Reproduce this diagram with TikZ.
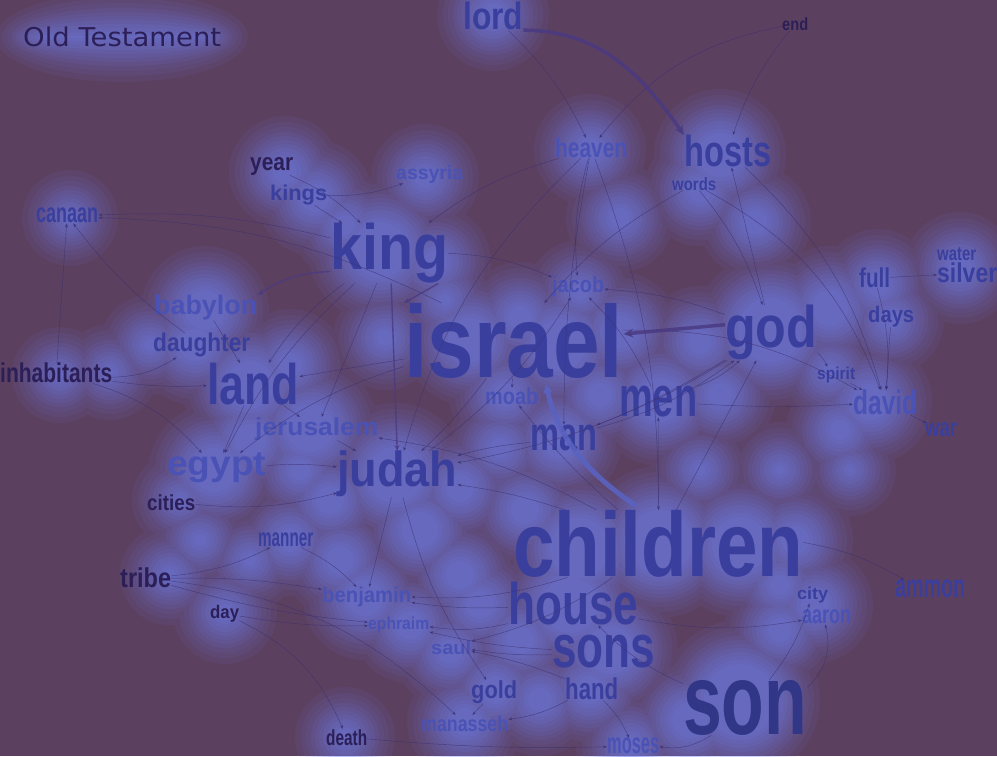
\documentclass[tikz,border=0pt]{standalone}
\usepackage{fontspec}
\usepackage{graphicx}
\usetikzlibrary{arrows.meta}
\newfontfamily\wf{Liberation Sans}
\newfontfamily\tf{DejaVu Sans}
\definecolor{bg}{HTML}{5C4060}
\definecolor{glow}{HTML}{7282F2}
\definecolor{tdark}{HTML}{2C1F58}
\definecolor{tmid}{HTML}{3A3F9E}
\definecolor{tlight}{HTML}{4A52B5}
\definecolor{edgec}{HTML}{3A3070}
\definecolor{thickc}{HTML}{4A3A82}
\definecolor{lightthick}{HTML}{5A62C0}
\newcommand\wordnode[7]{%
  \pgfmathsetmacro\wwid{#6-#4}\pgfmathsetmacro\whgt{#7-#5}%
  \node[wordbox, text=#3] (#1) at (#4,#5) {\resizebox*{\wwid pt}{\whgt pt}{\wf\bfseries #2}};}
\newcommand\glowset[1]{%
  \foreach \gx/\gy/\gr in {493/15/12, 590/150/12, 620/218/10, 720/155/22, 700/190/12, 755/222/12,
    285/172/12, 315/198/14, 345/225/10, 425/178/10, 70/218/4,
    380/250/28, 435/262/12, 205/310/20, 195/345/16, 150/345/6, 60/375/4, 110/372/4,
    250/385/24, 290/365/12, 470/340/22, 560/345/26, 620/332/16, 580/292/8, 520/318/12,
    770/330/32, 700/342/12, 830/308/18, 878/285/12, 890/320/10, 960/268/12,
    310/428/24, 250/440/16, 215/470/22, 180/500/4, 395/475/28, 460/488/14,
    660/400/22, 720/395/12, 600/395/12, 560/440/18, 500/448/10, 505/395/12,
    870/402/18, 840/430/10, 830/372/8, 580/548/30, 660/542/32, 740/545/28, 795/540/14, 525/510/14,
    570/605/28, 610/650/24, 520/640/14, 740/700/36, 690/720/18, 815/605/14, 780/630/12,
    290/540/12, 340/560/14, 250/560/6, 365/598/18, 410/625/14, 450/652/12, 225/612/8,
    495/690/14, 590/690/14, 540/700/12, 465/722/14, 345/737/6, 630/745/10,
    330/500/14, 420/530/18, 460/575/14, 480/605/14, 385/338/8, 300/470/10,
    700/470/6, 780/470/4, 850/470/2, 445/300/6, 200/540/6, 170/575/6, 780/585/10}
  {\fill[glow] (\gx,\gy) circle[radius=\gr pt+#1pt];}
  \fill[glow] (122,37) ellipse[x radius=82pt+#1pt, y radius=1pt+#1pt];}
\tikzset{
  wordbox/.style={inner sep=0pt, anchor=north west},
  edge/.style={draw=edgec, line width=0.45pt, opacity=0.7, -{Stealth[length=4pt,width=3pt]}},
  thickedge/.style={draw=thickc, line width=3.5pt, opacity=0.85, -{Stealth[length=10pt,width=9pt]}},
  midedge/.style={draw=thickc, line width=1.4pt, opacity=0.8, -{Stealth[length=6pt,width=5pt]}},
}
\begin{document}
\begin{tikzpicture}[x=1pt,y=-1pt]
\fill[bg] (0,0) rectangle (997,756);
\useasboundingbox (0,0) rectangle (997,756);
% glow
\foreach \off/\op in {44/0.07, 38/0.08, 33/0.08, 28/0.09, 24/0.09, 20/0.1, 16/0.1, 12/0.11, 8/0.11, 4/0.12, 0/0.12}{
  \begin{scope}[transparency group, opacity=\op]\glowset{\off}\end{scope}}
% title
\node[wordbox, text=tdark] (title) at (23,27) {\resizebox*{198pt}{20pt}{\tf Old Testament}};
% words
\wordnode{lord}{lord}{tmid}{463}{2}{523}{30}
\wordnode{end}{end}{tdark}{782}{17}{808}{30}
\wordnode{heaven}{heaven}{tlight}{555}{138}{627}{158}
\wordnode{hosts}{hosts}{tmid}{684}{135}{771}{167}
\wordnode{words}{words}{tmid}{672}{177}{716}{190}
\wordnode{year}{year}{tdark}{250}{157}{293}{175}
\wordnode{kings}{kings}{tmid}{270}{185}{327}{205}
\wordnode{assyria}{assyria}{tlight}{396}{165}{463}{183}
\wordnode{canaan}{canaan}{tmid}{36}{208}{98}{223}
\wordnode{king}{king}{tmid}{330}{223}{448}{283}
\wordnode{jacob}{jacob}{tlight}{552}{276}{604}{297}
\wordnode{israel}{israel}{tmid}{404}{303}{623}{378}
\wordnode{god}{god}{tmid}{725}{305}{817}{360}
\wordnode{full}{full}{tmid}{859}{268}{890}{288}
\wordnode{water}{water}{tmid}{937}{247}{976}{260}
\wordnode{silver}{silver}{tmid}{937}{263}{997}{283}
\wordnode{days}{days}{tmid}{868}{306}{914}{327}
\wordnode{babylon}{babylon}{tlight}{154}{295}{257}{320}
\wordnode{daughter}{daughter}{tmid}{153}{333}{250}{357}
\wordnode{inhabitants}{inhabitants}{tdark}{0}{363}{112}{383}
\wordnode{land}{land}{tmid}{207}{363}{299}{405}
\wordnode{moab}{moab}{tlight}{485}{388}{538}{405}
\wordnode{men}{men}{tmid}{619}{386}{697}{417}
\wordnode{spirit}{spirit}{tmid}{817}{367}{855}{383}
\wordnode{david}{david}{tlight}{853}{390}{917}{415}
\wordnode{war}{war}{tmid}{925}{423}{957}{437}
\wordnode{jerusalem}{jerusalem}{tlight}{255}{417}{378}{440}
\wordnode{man}{man}{tmid}{530}{425}{597}{451}
\wordnode{egypt}{egypt}{tlight}{167}{453}{266}{483}
\wordnode{judah}{judah}{tmid}{337}{451}{457}{497}
\wordnode{cities}{cities}{tdark}{147}{495}{195}{511}
\wordnode{children}{children}{tmid}{513}{510}{803}{577}
\wordnode{manner}{manner}{tmid}{258}{533}{313}{547}
\wordnode{tribe}{tribe}{tdark}{120}{568}{171}{588}
\wordnode{benjamin}{benjamin}{tlight}{322}{587}{411}{607}
\wordnode{house}{house}{tmid}{508}{582}{638}{625}
\wordnode{ammon}{ammon}{tmid}{895}{580}{965}{598}
\wordnode{city}{city}{tmid}{797}{587}{828}{603}
\wordnode{aaron}{aaron}{tlight}{802}{610}{851}{624}
\wordnode{day}{day}{tdark}{210}{605}{239}{622}
\wordnode{ephraim}{ephraim}{tlight}{368}{617}{429}{633}
\wordnode{saul}{saul}{tlight}{431}{640}{471}{654}
\wordnode{sons}{sons}{tmid}{552}{635}{655}{668}
\wordnode{gold}{gold}{tmid}{471}{680}{517}{703}
\wordnode{hand}{hand}{tmid}{565}{678}{618}{700}
\wordnode{son}{son}{tmid!85!black}{683}{680}{807}{735}
\wordnode{manasseh}{manasseh}{tlight}{421}{715}{508}{731}
\wordnode{death}{death}{tdark}{326}{729}{367}{745}
\wordnode{moses}{moses}{tlight}{607}{738}{659}{754}
% thin edges
\foreach \a/\b/\bd in {lord/heaven/10, end/heaven/-20, end/hosts/-10,
  heaven/man/-5, heaven/judah/-15, heaven/children/10, words/god/10, words/david/20, god/hosts/0,
  kings/assyria/-10, kings/king/0, year/king/10, king/canaan/-8, israel/canaan/-12,
  inhabitants/canaan/0, daughter/canaan/8, inhabitants/egypt/15, inhabitants/land/-5, inhabitants/daughter/-15,
  babylon/land/0, land/egypt/0, land/jerusalem/0, king/land/-10, king/egypt/-10, egypt/judah/5,
  cities/judah/-10, jerusalem/judah/0, king/jerusalem/0, judah/benjamin/0, manner/benjamin/10,
  tribe/benjamin/5, tribe/ephraim/-5, tribe/manasseh/18, tribe/manner/-10, day/death/20, day/ephraim/-5,
  death/moses/-3, gold/manasseh/0, hand/manasseh/10, hand/moses/10, son/moses/20, children/ammon/10,
  son/aaron/-30, house/aaron/-10, david/war/0, spirit/david/0, days/david/0, full/david/10, full/silver/0,
  god/spirit/10, men/david/-3, man/god/-10, men/god/-10, children/god/0, children/men/0,
  king/jacob/10, judah/jacob/-10, man/judah/-5, children/judah/-5, children/benjamin/10,
  children/saul/10, house/ephraim/10, sons/saul/5, israel/david/15, god/jacob/-8, judah/gold/-10,
  israel/egypt/-10, israel/land/0, heaven/king/-10, hosts/david/15, words/israel/-10, israel/moab/0,
  children/moab/5, god/man/5, son/city/-10, house/benjamin/5, israel/judah/5, god/judah/10,
  children/jerusalem/-10, sons/ephraim/5, son/house/10, hand/saul/-5, men/jacob/-10, heaven/jacob/-10}
  {\draw[edge] (\a) to[bend left=\bd] (\b);}
% heavier edges
\draw[thickedge] (lord.east) ++(0,14) to[out=0,in=125] (hosts.north west);
\draw[thickedge] (god.west) ++(0,-8) -- (israel.east |- 0,334);
\draw[draw=lightthick, line width=5pt, opacity=0.9, -{Stealth[length=10pt,width=10pt]}]
  (children.north) ++(-22,-4) .. controls (590,475) and (558,440) .. (546,384);
\draw[midedge] (king.south west) ++(0,-12) to[bend right=15] (babylon.north east);
\draw[midedge] (king.south east) ++(-10,0) -- (israel.north west);
\draw[midedge] (king.south) ++(2,0) -- (judah.north);
\end{tikzpicture}
\end{document}
